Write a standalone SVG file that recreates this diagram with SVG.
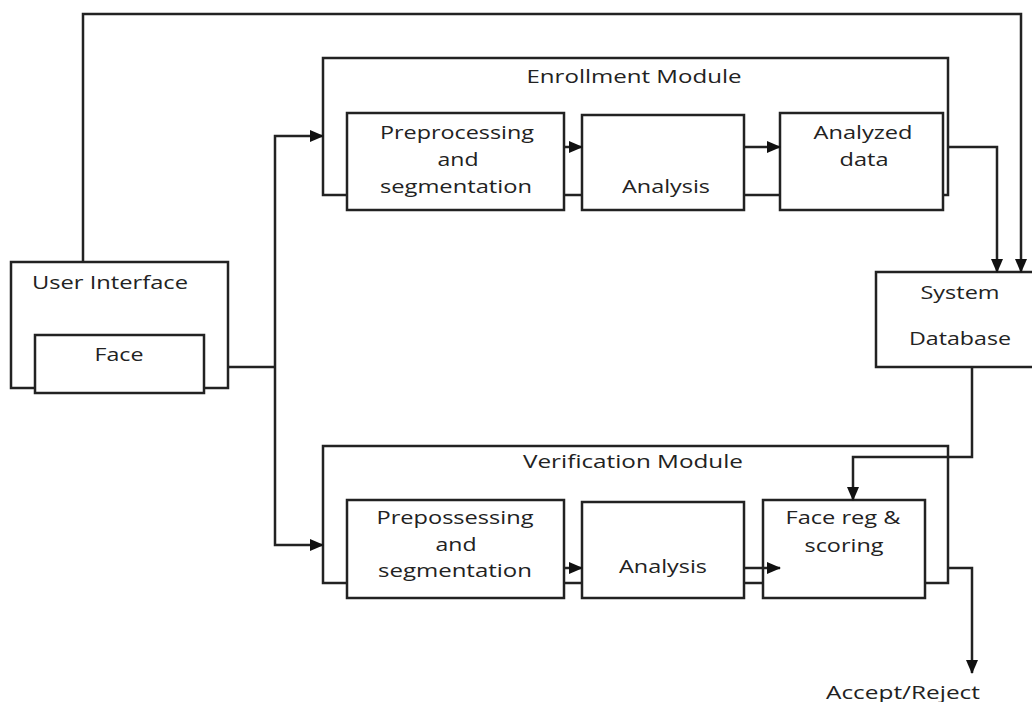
<svg xmlns="http://www.w3.org/2000/svg" width="1032" height="702" viewBox="0 0 1032 702">
<style>
.box{fill:#fff;stroke:#222;stroke-width:2.5}
.frame{fill:none;stroke:#222;stroke-width:2.5}
.ln{fill:none;stroke:#222;stroke-width:2.5}
.arr{marker-end:url(#ah)}
text{font-family:"Open Sans","DejaVu Sans",sans-serif;font-size:18px;fill:#222;text-anchor:middle}
</style>
<defs>
<marker id="ah" markerUnits="userSpaceOnUse" markerWidth="14" markerHeight="12" refX="13" refY="6" orient="auto">
<path d="M0,0 L14,6 L0,12 Z" fill="#111"/>
</marker>
</defs>
<rect width="1032" height="702" fill="#fff"/>

<g id="user-interface">
<rect class="box" x="11" y="262" width="217" height="126"/>
<text x="110" y="289" textLength="156" lengthAdjust="spacingAndGlyphs">User Interface</text>
</g>
<g id="face">
<rect class="box" x="35" y="335" width="169" height="58"/>
<text x="119" y="361" textLength="49" lengthAdjust="spacingAndGlyphs">Face</text>
</g>

<g id="enrollment-module">
<rect class="frame" x="323" y="58" width="625" height="137"/>
<text x="634" y="83" textLength="215" lengthAdjust="spacingAndGlyphs">Enrollment Module</text>
</g>
<g id="enroll-preprocessing">
<rect class="box" x="347" y="113" width="217" height="97"/>
<text x="457" y="139" textLength="154" lengthAdjust="spacingAndGlyphs">Preprocessing</text>
<text x="458" y="166" textLength="41" lengthAdjust="spacingAndGlyphs">and</text>
<text x="456" y="193" textLength="152" lengthAdjust="spacingAndGlyphs">segmentation</text>
</g>
<g id="enroll-analysis">
<rect class="box" x="582" y="115" width="162" height="95"/>
<text x="666" y="193" textLength="88" lengthAdjust="spacingAndGlyphs">Analysis</text>
</g>
<g id="analyzed-data">
<rect class="box" x="780" y="113" width="163" height="97"/>
<text x="863" y="139" textLength="99" lengthAdjust="spacingAndGlyphs">Analyzed</text>
<text x="864" y="166" textLength="49" lengthAdjust="spacingAndGlyphs">data</text>
</g>

<g id="system-database">
<rect class="box" x="876" y="272" width="160" height="95"/>
<text x="960" y="299" textLength="79" lengthAdjust="spacingAndGlyphs">System</text>
<text x="960" y="345" textLength="102" lengthAdjust="spacingAndGlyphs">Database</text>
</g>

<g id="verification-module">
<rect class="frame" x="323" y="446" width="625" height="137"/>
<text x="633" y="468" textLength="220" lengthAdjust="spacingAndGlyphs">Verification Module</text>
</g>
<g id="verif-prepossessing">
<rect class="box" x="347" y="500" width="217" height="98"/>
<text x="455" y="524" textLength="157" lengthAdjust="spacingAndGlyphs">Prepossessing</text>
<text x="456" y="551" textLength="41" lengthAdjust="spacingAndGlyphs">and</text>
<text x="455" y="577" textLength="154" lengthAdjust="spacingAndGlyphs">segmentation</text>
</g>
<g id="verif-analysis">
<rect class="box" x="582" y="502" width="162" height="96"/>
<text x="663" y="573" textLength="88" lengthAdjust="spacingAndGlyphs">Analysis</text>
</g>
<g id="face-reg-scoring">
<rect class="box" x="763" y="500" width="162" height="98"/>
<text x="843" y="524" textLength="115" lengthAdjust="spacingAndGlyphs">Face reg &amp;</text>
<text x="844" y="552" textLength="79" lengthAdjust="spacingAndGlyphs">scoring</text>
</g>

<g id="accept-reject">
<text x="903" y="699" textLength="154" lengthAdjust="spacingAndGlyphs">Accept/Reject</text>
</g>

<g id="connectors">
<polyline class="ln arr" points="83,262 83,14 1021,14 1021,272"/>
<polyline class="ln" points="228,367 275,367"/>
<polyline class="ln arr" points="275,367 275,136 323,136"/>
<polyline class="ln arr" points="275,367 275,545 323,545"/>
<line class="ln arr" x1="564" y1="147" x2="582" y2="147"/>
<line class="ln arr" x1="744" y1="147" x2="780" y2="147"/>
<polyline class="ln arr" points="948,147 997,147 997,272"/>
<polyline class="ln arr" points="972,367 972,457 853,457 853,500"/>
<line class="ln arr" x1="564" y1="568" x2="582" y2="568"/>
<line class="ln arr" x1="744" y1="568" x2="780" y2="568"/>
<polyline class="ln arr" points="948,568 972,568 972,673"/>
</g>
</svg>
